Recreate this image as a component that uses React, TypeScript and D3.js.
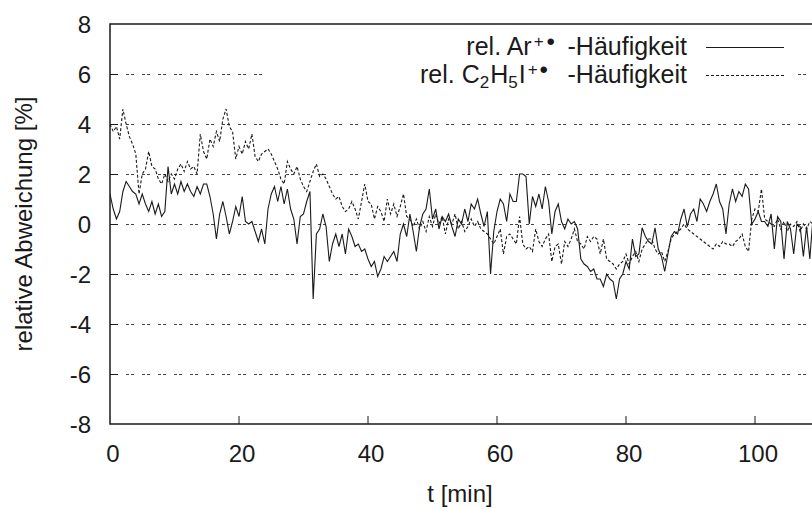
import * as React from "react";
import * as d3 from "d3";

// sampling of both series (minutes)
const timeStart = 0;
const timeStep = 0.5;

// relative Ar+ abundance deviation [%]
const arValues = [
  1.2, 0.6, 0.2, 0.5, 1.3, 1.7, 1.5, 1.3, 1.2, 0.8, 1.2, 0.8, 0.5, 0.9, 0.4, 0.8, 0.3, 0.5, 2.3, 1.2,
  1.6, 1.2, 1.7, 1.3, 1.6, 1.3, 1.1, 1.5, 1.2, 1.6, 1.6, 1.1, 0.4, -0.6, 0.4, 0.9, 0.3, -0.4, 0.1, 0.7,
  0.3, 1.1, 0.1, 0.0, 0.1, -0.3, -0.7, -0.2, -0.8, 0.6, 1.2, 1.5, 0.9, 1.5, 0.8, 1.4, 0.6, 0.2, -0.8, 0.3,
  0.4, 0.9, 1.3, -3.0, -0.4, -0.2, 0.4, -0.1, -1.5, -0.8, -0.4, -0.9, -0.4, -1.2, -0.2, -0.5, -0.9, -0.8, -1.1, -1.0,
  -1.4, -1.7, -1.5, -2.1, -1.8, -1.3, -1.5, -1.3, -1.1, -1.5, -0.4, 0.0, -0.5, 0.4, -0.3, -1.1, -0.1, 0.4, 0.6, 1.4,
  0.2, 0.6, -0.2, 0.3, 0.1, 0.4, -0.1, -0.5, 0.2, 0.0, 0.6, 0.1, 0.8, 0.6, 1.0, 0.4, -0.1, 0.5, -2.0, -0.3,
  0.5, 1.0, 0.8, 0.1, 1.2, 0.9, 0.9, 2.0, 2.0, 1.9, 0.0, 1.1, 0.7, 1.2, 0.6, 1.5, 0.9, -0.4, 0.5, 0.8,
  0.1, -0.2, 0.2, 0.0, 0.1, -0.2, -1.4, -1.6, -1.7, -1.9, -1.8, -2.2, -2.2, -2.5, -2.0, -2.2, -2.3, -3.0, -2.2, -2.0,
  -1.5, -1.8, -0.6, -1.3, -1.2, -0.15, -0.5, -0.7, -0.8, -0.15, -1.0, -1.3, -1.9, -1.2, -0.5, -0.3, -0.4, 0.2, 0.6, -0.1,
  0.4, 0.6, 0.1, 1.0, 0.8, 0.5, 0.9, 1.2, 1.6, 0.9, 0.6, -0.4, 0.8, 1.4, 0.9, 1.3, 1.1, 1.6, 1.4, 0.0,
  0.2, 0.5, 0.1, 0.1, -0.1, 0.4, -1.0, 0.3, 0.1, -1.4, 0.1, -0.2, -1.2, 0.0, -0.1, -1.3, -0.1, -1.4, 0.3,
];

// relative C2H5I+ abundance deviation [%]
const etiValues = [
  4.0, 3.7, 3.9, 3.4, 4.6, 4.0, 3.5, 3.2, 2.8, 1.2, 2.0, 2.2, 2.9, 2.3, 2.2, 1.8, 1.6, 2.0, 1.7, 2.0,
  1.8, 2.2, 2.4, 2.1, 2.5, 2.2, 2.3, 2.0, 3.6, 2.9, 2.6, 3.4, 3.1, 3.7, 3.3, 4.2, 4.6, 3.9, 3.7, 2.6,
  3.1, 2.8, 3.3, 3.0, 3.6, 2.7, 2.5, 2.8, 2.9, 3.0, 2.8, 2.5, 2.2, 1.8, 1.6, 2.5, 2.2, 2.0, 2.3, 1.8,
  1.5, 1.3, 1.7, 2.1, 2.4, 1.9, 2.0, 1.8, 1.5, 1.2, 1.0, 1.1, 0.7, 0.5, 0.6, 0.9, 0.6, 0.2, 0.9, 1.6,
  0.9, 0.8, 0.2, 0.7, 0.5, 0.1, 1.0, 0.4, 0.8, 0.3, 0.7, 1.2, 0.3, 0.2, -0.1, 0.2, -0.2, 0.1, -0.3, 0.3,
  -0.1, 0.4, 0.0, 0.3, -0.4, 0.2, 0.0, 0.4, -0.2, 0.1, -0.3, -0.1, 0.2, -0.1, 0.1, -0.2, -0.3, -0.4, -0.6, -0.8,
  -0.5, -0.2, -1.2, -0.5, -0.4, -0.6, -0.8, 0.3, -0.8, -1.0, -0.9, -1.1, -0.2, -0.7, -0.9, -0.6, -0.4, -1.5, -0.9, -0.8,
  -1.6, -0.7, -0.9, -0.6, -0.2, -0.7, -0.8, -1.0, -0.5, -0.7, -0.5, -0.6, -1.2, -0.6, -1.4, -1.5, -1.6, -1.8, -1.6, -1.5,
  -1.2, -1.6, -1.3, -1.1, -1.5, -1.0, -0.8, -0.6, -0.6, -1.0, -1.2, -1.1, -1.5, -1.1, -0.6, -0.4, -0.3, -0.2, 0.0, -0.2,
  -0.3, -0.4, -0.5, -0.6, -0.7, -0.8, -0.9, -1.0, -0.8, -0.9, -0.7, -0.8, -0.8, -0.9, -0.7, -0.6, -0.4, -0.9, -1.1, 0.2,
  0.6, 0.5, 1.4, 0.2, 0.1, 0.0, -0.1, 0.2, -0.2, 0.1, -0.3, 0.0, -0.1, 0.1, -0.3, 0.0, -0.2, 0.1, 0.0,
];

const xTicks = [0, 20, 40, 60, 80, 100];
const yTicks = [-8, -6, -4, -2, 0, 2, 4, 6, 8];

const W = 812;
const H = 509;
const left = 110;
const top = 24;
const bottom = 424;
const font = "'Liberation Sans', Arial, sans-serif";
const ink = "#1a1a1a";

function drawChart(svgRef: React.RefObject<SVGSVGElement>) {
  const svg = d3.select(svgRef.current);
  svg.selectAll("*").remove();

  // x = 0 at 110px, x = 100 at 755px; the frame runs past the right edge
  const xScale = d3.scaleLinear().domain([0, 100]).range([left, 755]);
  const yScale = d3.scaleLinear().domain([-8, 8]).range([bottom, top]);

  const toPoints = (vals: number[]) =>
    vals.map((v, i) => ({ t: timeStart + i * timeStep, v }));

  svg
    .append("defs")
    .append("clipPath")
    .attr("id", "plot-clip")
    .append("rect")
    .attr("x", left)
    .attr("y", top)
    .attr("width", W - left)
    .attr("height", bottom - top);

  // grid
  svg
    .append("g")
    .selectAll("line")
    .data(yTicks.filter((d) => d > -8 && d < 8))
    .join("line")
    .attr("x1", left)
    .attr("x2", W)
    .attr("y1", (d) => yScale(d) + 0.5)
    .attr("y2", (d) => yScale(d) + 0.5)
    .attr("stroke", "#444")
    .attr("stroke-width", 1)
    .attr("stroke-dasharray", "3,2,3,8");

  // white box behind the legend cuts the 6 % grid line
  svg
    .append("rect")
    .attr("x", 263)
    .attr("y", 30)
    .attr("width", 535)
    .attr("height", 60)
    .attr("fill", "#fff");

  // data
  const line = d3
    .line<{ t: number; v: number }>()
    .x((d) => xScale(d.t))
    .y((d) => yScale(d.v));

  const plot = svg.append("g").attr("clip-path", "url(#plot-clip)");
  plot
    .append("path")
    .datum(toPoints(etiValues))
    .attr("d", line)
    .attr("fill", "none")
    .attr("stroke", ink)
    .attr("stroke-width", 1.1)
    .attr("stroke-dasharray", "3,2");
  plot
    .append("path")
    .datum(toPoints(arValues))
    .attr("d", line)
    .attr("fill", "none")
    .attr("stroke", ink)
    .attr("stroke-width", 1.1);

  // frame: left, top, bottom (right side is off the page)
  svg
    .append("path")
    .attr("d", `M${W},${top}H${left}V${bottom}H${W}`)
    .attr("fill", "none")
    .attr("stroke", ink)
    .attr("stroke-width", 1.5);

  // inward ticks
  svg
    .append("g")
    .selectAll("line")
    .data(xTicks.slice(1))
    .join("line")
    .attr("x1", (d) => xScale(d))
    .attr("x2", (d) => xScale(d))
    .attr("y1", bottom)
    .attr("y2", bottom - 8)
    .attr("stroke", ink);
  svg
    .append("g")
    .selectAll("line")
    .data(yTicks.slice(1, -1))
    .join("line")
    .attr("x1", left)
    .attr("x2", left + 8)
    .attr("y1", (d) => yScale(d) + 0.5)
    .attr("y2", (d) => yScale(d) + 0.5)
    .attr("stroke", ink);

  // tick labels
  svg
    .append("g")
    .selectAll("text")
    .data(xTicks)
    .join("text")
    .attr("x", (d) => xScale(d) + 3)
    .attr("y", 462)
    .attr("text-anchor", "middle")
    .style("font", `24px ${font}`)
    .attr("fill", ink)
    .text((d) => d);
  svg
    .append("g")
    .selectAll("text")
    .data(yTicks)
    .join("text")
    .attr("x", 91)
    .attr("y", (d) => yScale(d) + 8.5)
    .attr("text-anchor", "end")
    .style("font", `24px ${font}`)
    .attr("fill", ink)
    .text((d) => d);

  // axis titles
  svg
    .append("text")
    .attr("transform", "translate(32,224) rotate(-90)")
    .attr("text-anchor", "middle")
    .style("font", `24px ${font}`)
    .attr("fill", ink)
    .text("relative Abweichung [%]");
  svg
    .append("text")
    .attr("x", 460)
    .attr("y", 502)
    .attr("text-anchor", "middle")
    .style("font", `24px ${font}`)
    .attr("fill", ink)
    .text("t [min]");

  // legend
  const legend = svg.append("g").style("font", `25px ${font}`).attr("fill", ink);

  const row1 = legend.append("text").attr("x", 555).attr("y", 55).attr("text-anchor", "end");
  row1.append("tspan").text("rel. Ar");
  row1.append("tspan").attr("dy", -8).attr("dx", 2).style("font-size", "17px").text("+");
  row1.append("tspan").attr("dy", 3).attr("dx", 3).style("font-size", "24px").text("\u2022");
  legend.append("text").attr("x", 687).attr("y", 55).attr("text-anchor", "end").text("-Häufigkeit");

  const row2 = legend.append("text").attr("x", 548).attr("y", 83).attr("text-anchor", "end");
  row2.append("tspan").text("rel. C");
  row2.append("tspan").attr("dy", 5).style("font-size", "17px").text("2");
  row2.append("tspan").attr("dy", -5).attr("dx", 1).text("H");
  row2.append("tspan").attr("dy", 5).style("font-size", "17px").text("5");
  row2.append("tspan").attr("dy", -5).attr("dx", 1).text("I");
  row2.append("tspan").attr("dy", -8).attr("dx", 2).style("font-size", "17px").text("+");
  row2.append("tspan").attr("dy", 3).attr("dx", 2).style("font-size", "24px").text("\u2022");
  legend.append("text").attr("x", 687).attr("y", 83).attr("text-anchor", "end").text("-Häufigkeit");

  legend
    .append("line")
    .attr("x1", 706)
    .attr("x2", 784)
    .attr("y1", 47.5)
    .attr("y2", 47.5)
    .attr("stroke", ink);
  legend
    .append("line")
    .attr("x1", 706)
    .attr("x2", 784)
    .attr("y1", 75.5)
    .attr("y2", 75.5)
    .attr("stroke", ink)
    .attr("stroke-dasharray", "3,2");
}

const App: React.FunctionComponent = () => {
  const svg = React.useRef<SVGSVGElement>(null);
  React.useEffect(() => {
    drawChart(svg);
  }, [svg]);

  return (
    <svg
      ref={svg}
      width={W}
      height={H}
      style={{ position: "absolute", left: 0, top: 0, background: "#fff" }}
    />
  );
};

export default App;
